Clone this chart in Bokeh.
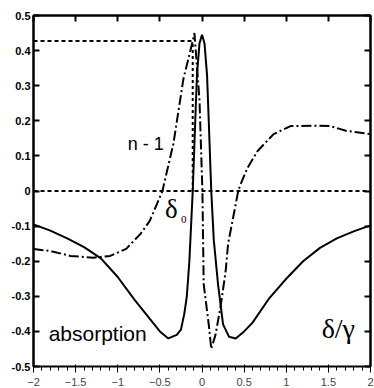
from bokeh.plotting import figure
from bokeh.models import Range1d, LinearAxis, FixedTicker, Label, Span
from bokeh.embed import file_html
from bokeh.resources import INLINE

# ---- data ----
x_ticks = [-2, -1.5, -1, -0.5, 0, 0.5, 1, 1.5, 2]
x_tick_labels = ["-2", "-1.5", "-1", "-0.5", "0", "0.5", "1", "1.5", "2"]
y_ticks = [-0.5, -0.4, -0.3, -0.2, -0.1, 0, 0.1, 0.2, 0.3, 0.4, 0.5]
y_tick_labels = ["-0.5", "-0.4", "-0.3", "-0.2", "-0.1", "0", "0.1", "0.2", "0.3", "0.4", "0.5"]

# absorption (solid)
abs_x = [-2.0, -1.8, -1.6, -1.4, -1.2, -1.0, -0.8, -0.6, -0.5, -0.4, -0.3, -0.25,
         -0.21, -0.18, -0.15, -0.13, -0.11, -0.08, -0.06, -0.03, 0.0, 0.03, 0.06,
         0.08, 0.11, 0.14, 0.19, 0.25, 0.32, 0.40, 0.5, 0.6, 0.8, 1.0, 1.2, 1.4,
         1.6, 1.8, 2.0]
abs_y = [-0.095, -0.113, -0.135, -0.160, -0.192, -0.245, -0.310, -0.370, -0.400,
         -0.420, -0.410, -0.395, -0.350, -0.300, -0.200, -0.100, 0.000, 0.200,
         0.330, 0.420, 0.445, 0.420, 0.330, 0.200, 0.000, -0.140, -0.265, -0.380,
         -0.415, -0.420, -0.400, -0.375, -0.305, -0.250, -0.200, -0.162, -0.135,
         -0.115, -0.098]

# dispersion n - 1 (dash-dot)
disp_x = [-2.0, -1.8, -1.56, -1.29, -1.09, -0.9, -0.73, -0.62, -0.57, -0.47, -0.34,
          -0.22, -0.11, -0.09, -0.03, 0.005, 0.02, 0.08, 0.11, 0.16, 0.22, 0.28,
          0.31, 0.43, 0.46, 0.54, 0.66, 0.85, 1.05, 1.3, 1.52, 1.72, 2.0]
disp_y = [-0.165, -0.171, -0.185, -0.190, -0.185, -0.165, -0.122, -0.085, -0.057,
          0.000, 0.134, 0.320, 0.427, 0.450, 0.260, 0.000, -0.265, -0.380, -0.450,
          -0.410, -0.330, -0.230, -0.150, 0.000, 0.020, 0.066, 0.114, 0.162, 0.185,
          0.186, 0.185, 0.171, 0.162]

# marker of the dispersion maximum (delta_0)
delta0_x = -0.11
delta0_y = 0.427

x_min, x_max = -2, 2
y_min, y_max = -0.5, 0.5

# ---- figure ----
p = figure(width=374, height=388, output_backend="svg", toolbar_location=None,
           x_range=Range1d(x_min, x_max), y_range=Range1d(y_min, y_max),
           min_border_left=33, min_border_right=4, min_border_top=15,
           min_border_bottom=22)
p.grid.visible = False
p.outline_line_color = "black"
p.outline_line_width = 2
p.background_fill_color = "white"
p.border_fill_color = "white"

extra_top = LinearAxis()
extra_right = LinearAxis()
p.add_layout(extra_top, "above")
p.add_layout(extra_right, "right")

for ax in [p.xaxis[0], extra_top]:
    ax.ticker = FixedTicker(ticks=x_ticks)
    ax.major_label_overrides = {t: l for t, l in zip(x_ticks, x_tick_labels)}
for ax in [p.yaxis[0], extra_right]:
    ax.ticker = FixedTicker(ticks=y_ticks)
    ax.major_label_overrides = {t: l for t, l in zip(y_ticks, y_tick_labels)}

for ax in [p.xaxis[0], p.yaxis[0], extra_top, extra_right]:
    ax.major_tick_in = 6
    ax.major_tick_out = 0
    ax.minor_tick_line_color = None
    ax.major_tick_line_width = 2
    ax.axis_line_width = 2
    ax.axis_line_color = "black"
    ax.major_tick_line_color = "black"
    ax.major_label_text_font = "Liberation Sans"
    ax.major_label_text_font_style = "bold"
    ax.major_label_text_font_size = "11px"
    ax.major_label_text_color = "black"
    ax.major_label_standoff = 3

for ax in [extra_top, extra_right]:
    ax.major_label_text_font_size = "1px"
    ax.major_label_text_color = None
    ax.major_label_standoff = 0

# reference lines
p.add_layout(Span(location=0, dimension="width", line_color="black",
                  line_width=2, line_dash="4 3"))
p.line([x_min, delta0_x], [delta0_y, delta0_y], line_color="black",
       line_width=2, line_dash="4 3")
p.line([delta0_x, delta0_x], [0, delta0_y], line_color="black",
       line_width=2, line_dash="3 3")

# curves
p.line(abs_x, abs_y, line_color="black", line_width=2)
p.line(disp_x, disp_y, line_color="black", line_width=2, line_dash="10 3 2 3")

# labels
p.add_layout(Label(x=-0.88, y=0.105, text="n - 1", text_font="Liberation Sans",
                   text_font_size="18px", text_color="black"))
p.add_layout(Label(x=-0.44, y=-0.095, text="δ", text_font="Liberation Serif",
                   text_font_size="27px", text_color="black"))
p.add_layout(Label(x=-0.25, y=-0.092, text="0", text_font="Liberation Serif",
                   text_font_size="11px", text_color="black"))
p.add_layout(Label(x=-1.82, y=-0.44, text="absorption", text_font="Liberation Sans",
                   text_font_size="21px", text_color="black"))
p.add_layout(Label(x=1.42, y=-0.435, text="δ/γ", text_font="Liberation Serif",
                   text_font_size="28px", text_color="black"))

open("out.html", "w").write(file_html(p, INLINE))
